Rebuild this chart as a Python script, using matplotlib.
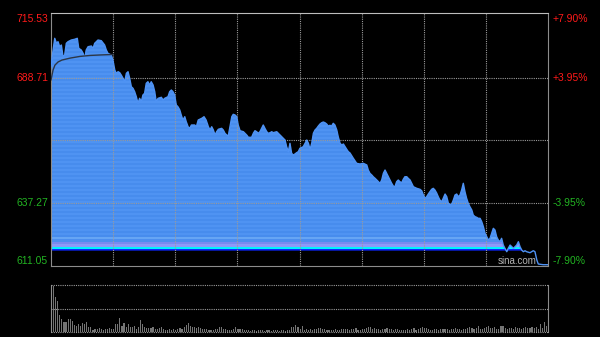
import numpy as np
import matplotlib.pyplot as plt
from matplotlib.transforms import blended_transform_factory, offset_copy

# intraday price (minute 0..240 -> price)
minutes = [
    0, 1.0, 1.8, 2.6, 3.4, 4.2, 5.0, 5.8, 6.6, 7.4, 8.2, 9.8, 11.4, 12.7, 13.4, 14.6, 15.5, 16.3, 17.0, 17.9,
    19.5, 20.3, 21.1, 22.7, 24.3, 25.9, 26.7, 27.5, 29.1, 29.9, 30.8, 31.5, 32.4, 33.2, 33.9, 34.8, 35.6, 36.4,
    37.2, 38.0, 38.8, 39.6, 40.4, 41.2, 42.0, 42.8, 43.6, 44.4, 45.2, 46.0, 46.8, 47.7, 48.4, 49.3, 50.1, 50.8,
    51.7, 53.3, 54.1, 54.9, 56.5, 57.3, 58.1, 58.9, 59.7, 60.5, 61.3, 62.2, 62.9, 63.7, 64.6, 65.3, 66.2, 67.0,
    67.8, 69.4, 70.2,
    71.1, 72.8, 73.9, 74.9, 76.0, 76.8, 77.6, 78.4, 79.2, 80.0, 80.8, 82.4, 83.2, 84.0, 84.9, 85.6, 86.4, 87.3,
    88.0, 88.9, 89.7, 90.4, 91.3, 92.9, 93.7, 94.5, 95.3, 96.9, 97.7, 98.5, 99.3, 100.1, 100.9, 101.7, 102.5,
    103.3, 104.2, 104.9, 105.8, 106.6, 107.3, 109.0, 109.8, 110.6, 111.4, 113.0, 113.8, 114.6, 115.4, 116.2,
    117.0, 117.8, 118.6, 119.4, 120.2, 121.8, 122.7, 123.5, 124.3, 125.1, 125.9, 126.7, 127.5, 128.3, 129.1,
    129.9, 130.7, 131.5, 132.3, 133.1, 133.9, 134.7, 135.5, 136.3, 137.1, 138.0, 138.7, 139.6, 140.4, 141.2,
    142.0, 142.8, 143.6, 144.4,
    146.0, 147.6, 149.2, 150.8, 152.5, 153.2, 154.0, 154.9, 155.6, 156.5, 157.3, 158.1, 158.9, 159.7, 160.5,
    161.3, 162.1, 162.9, 163.7, 164.5, 165.3, 166.1, 166.9, 167.7, 168.5, 169.4, 170.1, 170.9, 171.8, 172.5,
    173.4, 174.2, 175.0, 176.6, 178.2, 179.0, 179.8, 180.6, 181.4, 182.2, 183.0, 183.8, 184.6, 185.4, 186.3,
    187.0, 187.8, 188.7, 189.4, 190.3, 191.1, 191.9, 192.7, 193.5, 194.3, 195.1, 195.9, 196.7, 197.5, 198.3,
    199.1, 199.9, 200.7, 201.5, 202.3, 203.2, 203.9, 204.8, 205.6, 206.3, 207.2, 208.0, 208.8, 209.6, 210.4,
    211.2, 212.0, 212.8, 213.6, 214.4, 215.2, 216.0, 216.8, 217.6, 218.4, 219.2, 220.1, 220.8, 221.7, 222.5,
    223.3, 224.1, 224.9, 225.7, 226.5, 227.3, 228.1, 228.9, 229.7, 231.3, 232.1, 232.9, 233.7, 234.6, 235.3,
    237.7, 240.0,
]
prices = [
    693.35, 700.25, 705.08, 703.14, 703.68, 701.61, 702.32, 697.48, 698.19, 703.02, 703.68, 704.38, 704.67,
    705.08, 700.95, 700.25, 698.89, 696.82, 700.25, 701.61, 701.90, 700.95, 703.02, 704.38, 704.09, 702.32,
    700.25, 698.89, 698.19, 696.12, 691.99, 690.63, 691.29, 690.87, 689.93, 688.56, 687.16, 690.63, 691.29,
    688.56, 685.09, 684.43, 683.03, 680.96, 678.24, 680.30, 678.90, 681.67, 682.37, 686.50, 687.16, 685.80,
    687.16, 685.80, 683.03, 678.90, 680.30, 680.72, 679.60, 680.30, 680.96, 683.03, 683.73, 683.03, 681.67,
    677.54, 676.83, 675.47, 673.40, 671.34, 672.70, 670.64, 668.57, 667.91, 669.28, 669.28, 668.57,
    671.34, 672.04, 672.70, 671.34, 668.57, 667.21, 668.57, 667.21, 665.15, 666.51, 667.50, 667.91, 667.21,
    665.85, 665.15, 664.73, 668.57, 672.70, 673.69, 673.40, 672.70, 669.28, 666.92, 666.51, 665.85, 665.15,
    664.20, 664.20, 665.85, 666.92, 666.51, 665.85, 666.51, 667.91, 669.28, 667.91, 666.51, 665.85, 666.10,
    666.51, 666.10, 666.51, 665.85, 665.15, 664.44, 663.08, 660.31, 658.25, 661.72, 657.59, 656.89, 657.30,
    657.84, 658.25, 659.65, 660.31, 661.72, 663.08, 661.72, 659.24, 661.72, 665.85, 667.21, 667.91, 668.86,
    669.69, 670.22, 670.51, 670.22, 669.69, 668.86, 669.15, 668.86, 669.98, 669.28, 667.21, 664.44, 661.72,
    661.02, 661.43, 660.31, 659.24, 658.25, 657.71,
    655.52, 653.46, 653.17, 653.46, 652.76, 650.69, 649.33, 648.63, 647.92, 647.26, 646.56, 645.86, 645.20,
    646.56, 649.33, 650.69, 649.33, 647.92, 646.56, 645.20, 644.08, 643.79, 645.86, 646.56, 645.86, 645.45,
    646.85, 647.92, 647.92, 647.26, 646.56, 645.20, 643.79, 643.13, 642.72, 642.14, 640.37, 639.00, 639.66,
    640.78, 641.73, 642.72, 643.13, 642.43, 641.07, 639.66, 638.30, 637.60, 639.00, 640.78, 639.66, 636.94,
    636.24, 636.65, 638.30, 640.37, 640.78, 639.66, 640.37, 642.43, 645.20, 641.73, 639.00, 636.94, 635.53,
    634.17, 632.10, 631.40, 631.15, 630.74, 630.74, 629.34, 627.27, 624.54, 623.14, 621.78, 622.48, 624.54,
    626.61, 625.91, 623.14, 621.78, 621.08, 622.48, 619.71, 618.35, 616.95, 618.35, 619.71, 619.01, 618.35,
    619.01, 619.71, 621.08, 619.01, 617.65, 616.95, 617.36, 616.95, 616.54, 616.95, 617.36, 616.95, 613.52,
    611.87, 611.58, 611.58,
]

# average price line (only shows over the blue area early in the session)
avg_minutes = [0, 1.0, 1.9, 3.4, 5.3, 9.2, 14.0, 18.8, 23.7, 29.9]
avg_prices = [687.9, 692.0, 694.0, 695.3, 696.1, 696.9, 697.6, 698.0, 698.2, 698.4]

# per-minute volume (arbitrary units)
volumes = [
    25, 46, 35, 31, 17, 13, 10, 10, 13, 13, 11, 7, 6, 8, 6, 9, 8, 10, 5, 5,
    2, 3, 3, 4, 3, 2, 3, 3, 4, 3, 3, 8, 8, 14, 6, 9, 5, 8, 5, 5,
    6, 3, 5, 12, 8, 5, 4, 4, 4, 5, 3, 3, 4, 5, 3, 2, 2, 3, 2, 3,
    2, 3, 4, 3, 5, 7, 9, 6, 5, 5, 4, 5, 4, 3, 3, 3, 2, 2, 2, 3,
    3, 5, 5, 3, 3, 2, 2, 2, 3, 5, 3, 3, 3, 2, 2,
    2, 1, 2, 2, 1, 2, 2, 2, 1, 2, 2, 1, 2, 2, 2, 1, 2, 2, 1, 2, 2,
    5, 5, 7, 5, 3, 6,
    2, 3, 2, 3, 2, 3, 3, 4, 4, 3, 3, 2, 2, 2, 2, 3, 2, 2, 3,
    3, 3, 3, 2, 3, 3, 4, 2, 2, 3, 3, 4, 5, 5, 3, 4, 3, 3, 2, 3,
    3, 4, 3, 3, 2, 3, 3, 2, 2, 2, 2, 3, 2, 3, 4, 2, 3, 4, 5, 4,
    4, 3, 2, 2, 3, 3, 2, 3, 3, 3, 3, 2, 3, 3, 4, 3, 3, 2, 3, 3,
    4, 5, 4, 3, 4, 6, 3, 3, 4, 5, 6, 4, 4, 5, 3, 3, 6, 6, 4, 3,
    4, 4, 3, 5, 4, 4, 3, 4, 5, 4, 4, 5, 4, 5, 3, 8, 4, 10, 6, 15,
]

price_top = 715.53
price_bottom = 611.05
prev_close = 663.29
grid_prices = [688.71, prev_close, 637.27]
label_prices = [715.53, 688.71, 637.27, 611.05]
left_labels = ['715.53', '688.71', '637.27', '611.05']
right_labels = ['+7.90%', '+3.95%', '-3.95%', '-7.90%']
label_colors = ['#ff1a1a', '#ff1a1a', '#22b422', '#22b422']
fill_base = 617.4

plt.rcParams['font.family'] = ['Liberation Sans', 'DejaVu Sans']

fig = plt.figure(figsize=(6, 3.37), dpi=100, facecolor='black')
ax = fig.add_axes([51 / 600, 1 - 266 / 337, 497 / 600, 253 / 337], facecolor='black')
axv = fig.add_axes([51 / 600, 1 - 332 / 337, 497 / 600, 47 / 337], facecolor='black')

# striped blue area under the price line
rows = 238
img = np.zeros((rows, 1, 3))
for r in range(rows):
    if r < 2:
        c = (0.05, 0.15, 1.0)
    elif r < 4:
        c = (0.0, 0.95, 1.0)
    elif r < 7:
        c = (0.56, 0.6, 0.97)
    elif r < 9:
        c = (0.48, 0.54, 0.94)
    elif r < 12:
        c = (0.3, 0.56, 0.94)
    elif r < 14:
        c = (0.4, 0.65, 0.96)
    elif (r // 2) % 2:
        c = (0.28, 0.55, 0.93)
    else:
        c = (0.31, 0.58, 0.95)
    img[r, 0] = c

poly = ax.fill_between(minutes, np.maximum(prices, fill_base), fill_base,
                       facecolor='none', edgecolor='none', linewidth=0)
im = ax.imshow(img, extent=(0, 240, fill_base, price_top), origin='lower',
               aspect='auto', interpolation='nearest', zorder=1)
im.set_clip_path(poly.get_paths()[0], ax.transData)

dot = (0, (1, 1))
for gp in grid_prices:
    ax.axhline(gp, color='#9a9a9a', lw=0.8, ls=dot, zorder=2)
for gx in range(30, 240, 30):
    ax.axvline(gx, color='#9a9a9a', lw=0.8, ls=dot, zorder=2)

ax.plot(minutes, prices, color='#4f93f5', lw=1, zorder=3)
ax.plot(avg_minutes, avg_prices, color='#2c3646', lw=1, zorder=3)

ax.set_xlim(0, 240)
ax.set_ylim(price_bottom, price_top)
ax.set_xticks([])
ax.set_yticks([])
for side in ['left', 'right', 'bottom']:
    ax.spines[side].set_color('#8c8c8c')
ax.spines['top'].set_color('#bdbdbd')

trans = blended_transform_factory(ax.transAxes, ax.transData)
shifts = [-6, 0, 0, 5.5]
for val, lt, rt, col, dy in zip(label_prices, left_labels, right_labels, label_colors, shifts):
    tr = offset_copy(trans, fig=fig, x=0, y=dy, units='dots')
    ax.text(-0.006, val, lt, color=col, fontsize=7.5, ha='right', va='center', transform=tr)
    ax.text(1.01, val, rt, color=col, fontsize=7.5, ha='left', va='center', transform=tr)

ax.text(0.9376, 0.018, 'sina.com', color='#b4b4b4', fontsize=7, ha='center', va='center',
        transform=ax.transAxes, zorder=4)

# volume panel
vol_top = 47
axv.bar(np.arange(len(volumes)), volumes, width=0.55, align='edge', color='#747474',
        antialiased=False, zorder=2)
for gy in [0, vol_top / 2, vol_top]:
    axv.axhline(gy, color='#9a9a9a', lw=0.8, ls=dot, zorder=3, clip_on=False)
axv.set_xlim(0, 240)
axv.set_ylim(0, vol_top)
axv.set_xticks([])
axv.set_yticks([])
axv.spines['top'].set_visible(False)
axv.spines['bottom'].set_visible(False)
axv.spines['left'].set_color('#8c8c8c')
axv.spines['right'].set_color('#8c8c8c')

fig.savefig('out.png', dpi=100, facecolor='black')
